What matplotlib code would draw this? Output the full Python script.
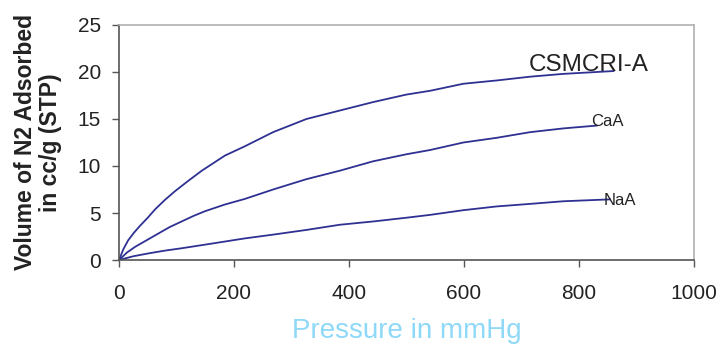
import numpy as np
import matplotlib
matplotlib.use('Agg')
import matplotlib.pyplot as plt

plt.rcParams['font.family'] = ['Liberation Sans', 'DejaVu Sans']

# readings (pressure in mmHg, volume in cc/g)
p_csmcri = [0, 8, 16, 26, 36, 50, 63, 80, 97, 120, 144, 164, 184, 219, 268, 326, 384, 442, 500, 541, 599, 657, 715, 773, 860]
v_csmcri = [0, 1.2, 2.1, 2.9, 3.6, 4.5, 5.4, 6.4, 7.3, 8.4, 9.5, 10.3, 11.1, 12.1, 13.6, 15.0, 15.9, 16.8, 17.6, 18.0, 18.75, 19.1, 19.5, 19.8, 20.1]

p_caa = [0, 14, 28, 48, 68, 88, 109, 130, 150, 184, 219, 268, 326, 384, 442, 500, 541, 599, 657, 715, 773, 831]
v_caa = [0, 0.8, 1.4, 2.1, 2.8, 3.5, 4.1, 4.7, 5.2, 5.9, 6.5, 7.5, 8.6, 9.5, 10.5, 11.25, 11.7, 12.5, 13.0, 13.6, 14.0, 14.3]

p_naa = [0, 25, 51, 80, 109, 167, 219, 268, 326, 384, 442, 500, 541, 599, 657, 715, 773, 854]
v_naa = [0, 0.4, 0.7, 1.0, 1.25, 1.8, 2.3, 2.7, 3.2, 3.75, 4.1, 4.5, 4.8, 5.3, 5.7, 5.97, 6.25, 6.45]

labels = ['CSMCRI-A', 'CaA', 'NaA']

line_col = '#2e3192'

fig = plt.figure(figsize=(7.22, 3.47), dpi=100)
ax = fig.add_axes([0.1648, 0.2507, 0.9612 - 0.1648, 0.928 - 0.2507])

ax.plot(p_csmcri, v_csmcri, color=line_col, lw=1.3)
ax.plot(p_caa, v_caa, color=line_col, lw=1.3)
ax.plot(p_naa, v_naa, color=line_col, lw=1.3)

ax.text(713, 20.15, labels[0], fontsize=17.5, color='#222222', va='baseline')
ax.text(821, 14.25, labels[1], fontsize=12, color='#222222', va='baseline')
ax.text(842, 5.9, labels[2], fontsize=12, color='#222222', va='baseline')

ax.set_xlim(0, 1000)
ax.set_ylim(0, 25)
ax.set_xticks(np.arange(0, 1001, 200))
ax.set_yticks(np.arange(0, 26, 5))

for s in ['left', 'bottom']:
    ax.spines[s].set_color('#555555')
    ax.spines[s].set_linewidth(1.2)
for s in ['top', 'right']:
    ax.spines[s].set_color('#b0b0b0')
    ax.spines[s].set_linewidth(1.2)

ax.tick_params(axis='both', direction='out', length=5, width=1, color='#555555',
               labelsize=15, labelcolor='#222222')
ax.tick_params(axis='x', pad=12)
ax.tick_params(axis='y', pad=8)

ax.set_xlabel('Pressure in mmHg', fontsize=20, color='#8ed8f8', labelpad=11)
ax.set_ylabel('Volume of N2 Adsorbed\nin cc/g (STP)', fontsize=16.5, fontweight='bold',
              color='#222222', labelpad=11, linespacing=1.15)

fig.savefig('out.png', dpi=100)
